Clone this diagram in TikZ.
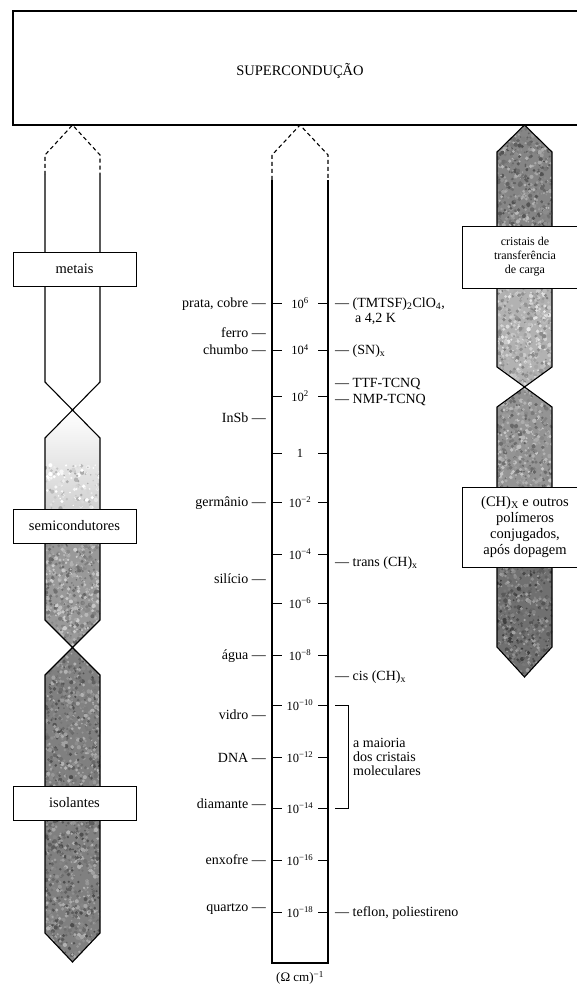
\documentclass[tikz,border=0pt]{standalone}
\usepackage{fontspec}
\setmainfont{Liberation Serif}

% random grey grain inside the current clip: seed, x1, y1, x2, y2, dots, mean shade
\newcommand\mottle[7]{%
  \pgfmathsetseed{#1}%
  \foreach \k in {1,...,#6}{%
    \pgfmathsetmacro\gx{#2+rnd*(#4-#2)}%
    \pgfmathsetmacro\gy{#3+rnd*(#5-#3)}%
    \pgfmathtruncatemacro\gs{max(0,min(100,#7+(rnd-0.5)*42))}%
    \pgfmathsetmacro\gr{0.8+rnd*1.4}%
    \fill[black!\gs] (\gx,\gy) circle[radius=\gr pt];
  }}

\begin{document}
\begin{tikzpicture}[x=1pt,y=-1pt,
  wall/.style={line width=1.1pt, line join=miter},
  dashwall/.style={line width=1.1pt, dash pattern=on 4pt off 3pt},
  tagbox/.style={draw, line width=1pt, fill=white, inner sep=0pt, align=center},
  lbl/.style={font=\fontsize{14}{15}\selectfont, inner sep=0pt},
  val/.style={font=\fontsize{12.5}{14}\selectfont, inner sep=0pt},
  tick/.style={line width=1pt}]
\useasboundingbox (0,0) rectangle (576,987);

% superconduction band
\draw[line width=1.1pt] (13,11) rectangle (600,125);
\node[lbl, font=\fontsize{14.5}{16}\selectfont] (super) at (300,71) {SUPERCONDUÇÃO};

\coordinate (lapex) at (72.5,125);
\coordinate (capex) at (300,125);
\coordinate (rapex) at (524.5,125);

% ---- left column: shaded parts ----
\begin{scope}
  \clip (72.5,410) -- (100,438) -- (100,620) -- (72.5,647.5) -- (45,620) -- (45,438) -- cycle;
  \shade[top color=white, bottom color=black!18] (40,410) rectangle (105,509);
  \mottle{11}{45}{465}{100}{509}{140}{16}
  \fill[black!40] (40,509) rectangle (105,650);
  \mottle{12}{45}{543}{100}{648}{620}{40}
\end{scope}
\begin{scope}
  \clip (72.5,647.5) -- (100,675) -- (100,933) -- (72.5,962) -- (45,933) -- (45,675) -- cycle;
  \fill[black!50] (40,645) rectangle (105,965);
  \mottle{13}{45}{647}{100}{962}{1700}{50}
\end{scope}

% ---- right column: shaded parts ----
\begin{scope}
  \clip (rapex) -- (552,152) -- (552,367) -- (524.5,387) -- (497,367) -- (497,152) -- cycle;
  \fill[black!48] (490,120) rectangle (560,230);
  \mottle{21}{497}{125}{552}{226}{580}{48}
  \fill[black!30] (490,230) rectangle (560,390);
  \mottle{22}{497}{288}{552}{388}{580}{30}
\end{scope}
\begin{scope}
  \clip (524.5,387) -- (552,407) -- (552,647) -- (524.5,677) -- (497,647) -- (497,407) -- cycle;
  \fill[black!42] (490,385) rectangle (560,500);
  \mottle{23}{497}{387}{552}{487}{580}{42}
  \fill[black!56] (490,500) rectangle (560,680);
  \mottle{24}{497}{567}{552}{677}{640}{56}
\end{scope}

% ---- column outlines ----
\draw[dashwall] (45,175) -- (45,155) -- (lapex) -- (100,155) -- (100,175);
\draw[wall] (45,175) -- (45,382) -- (100,438) -- (100,620) -- (45,675) -- (45,933)
  -- (72.5,962) -- (100,933) -- (100,675) -- (45,620) -- (45,438) -- (100,382) -- (100,175);

\draw[dashwall] (272,180) -- (272,155) -- (capex) -- (328,155) -- (328,180);
\draw[wall] (272,180) -- (272,963) -- (328,963) -- (328,180);

\draw[wall] (rapex) -- (552,152) -- (552,367) -- (497,407) -- (497,647) -- (524.5,677)
  -- (552,647) -- (552,407) -- (497,367) -- (497,152) -- cycle;

% ---- class labels ----
\node[tagbox, minimum width=123pt, minimum height=34pt, font=\fontsize{14.5}{16}\selectfont] (metais) at (74.5,269) {metais};
\node[tagbox, minimum width=123pt, minimum height=34pt, font=\fontsize{14.5}{16}\selectfont] (semi) at (74.5,526) {semicondutores};
\node[tagbox, minimum width=123pt, minimum height=34pt, font=\fontsize{14.5}{16}\selectfont] (isol) at (74.5,803) {isolantes};
\node[tagbox, minimum width=126pt, minimum height=62pt, font=\fontsize{12}{14}\selectfont] (ctc) at (525,257)
  {cristais de\\transferência\\de carga};
\node[tagbox, minimum width=126pt, minimum height=80pt, font=\fontsize{14.5}{16}\selectfont] (poly) at (525,527)
  {(CH)\textsubscript{X} e outros\\polímeros\\conjugados,\\após dopagem};

% ---- conductivity scale ----
\foreach \yy/\tx in {303/{10\textsuperscript{6}}, 350/{10\textsuperscript{4}}, 396/{10\textsuperscript{2}},
  453/{1}, 502/{10\textsuperscript{−2}}, 554/{10\textsuperscript{−4}}, 603/{10\textsuperscript{−6}},
  655/{10\textsuperscript{−8}}, 705/{10\textsuperscript{−10}}, 757/{10\textsuperscript{−12}},
  808/{10\textsuperscript{−14}}, 860/{10\textsuperscript{−16}}, 912/{10\textsuperscript{−18}}}{
  \draw[tick] (272,\yy) -- (282,\yy);
  \draw[tick] (318,\yy) -- (328,\yy);
  \node[val] (v\yy) at (300,\yy) {\tx};
}

% materials to the left of the scale
\foreach \yy/\tx in {303/{prata, cobre}, 333/{ferro}, 350/{chumbo}, 418/{InSb}, 502/{germânio},
  579/{silício}, 655/{água}, 715/{vidro}, 758/{DNA}, 804/{diamante}, 860/{enxofre}, 907/{quartzo}}{
  \node[lbl, anchor=base east] (l\yy) at (266,{\yy+4.5}) {\tx\ —};
}

% materials to the right of the scale
\foreach \yy/\tx in {303/{(TMTSF)\textsubscript{2}ClO\textsubscript{4},}, 350/{(SN)\textsubscript{x}},
  383/{TTF-TCNQ}, 399/{NMP-TCNQ}, 562/{trans (CH)\textsubscript{x}}, 676/{cis (CH)\textsubscript{x}},
  912/{teflon, poliestireno}}{
  \node[lbl, anchor=base west] (r\yy) at (335,{\yy+4.5}) {— \tx};
}
\node[lbl, anchor=base west] (r318) at (355,322.5) {a 4,2 K};

% molecular crystals bracket
\coordinate (bt) at (335,705);
\coordinate (bb) at (335,808);
\draw[tick] (bt) -- (348,705) -- (348,808) -- (bb);
\node[lbl, anchor=west, align=left, font=\fontsize{14}{14}\selectfont] (mol) at (353,757)
  {a maioria\\dos cristais\\moleculares};

\node[val, font=\fontsize{13}{14}\selectfont] (unit) at (300,978) {(Ω cm)\textsuperscript{−1}};
\end{tikzpicture}
\end{document}
